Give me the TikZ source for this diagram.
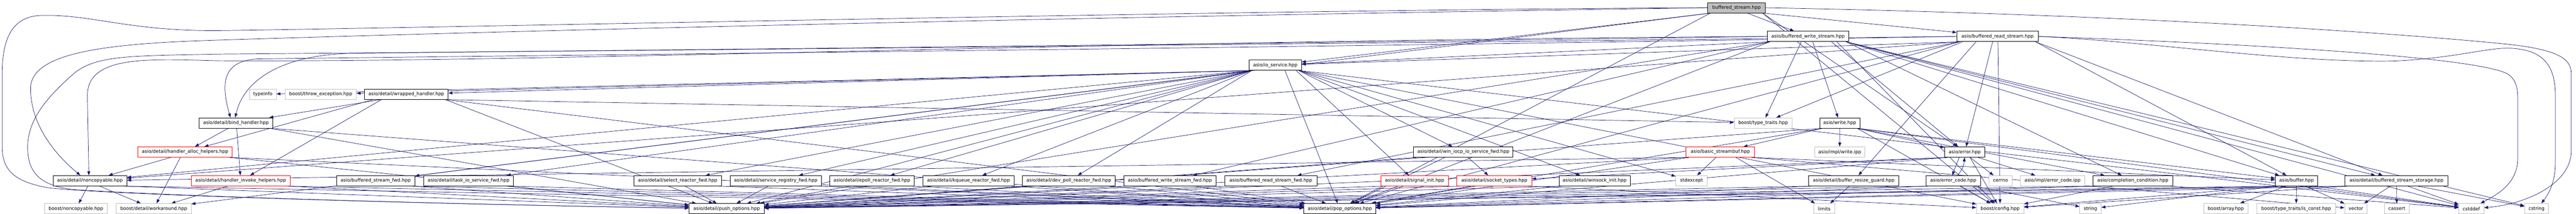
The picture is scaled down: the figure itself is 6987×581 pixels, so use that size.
\documentclass[tikz,border=0pt]{standalone}
\usepackage{fontspec}
\setmainfont{DejaVu Sans}
\usetikzlibrary{arrows.meta,backgrounds,calc}
\definecolor{edgecol}{HTML}{191970}
\definecolor{extcol}{HTML}{BFBFBF}
\newcommand\dep[2]{\draw[edg] let \p1=(#1.south west),\p2=(#1.south east),\p3=(#2.center),
  \n1={max(\x1+8pt,min(\x2-8pt,0.5*\x1+0.5*\x2+0.15*(\x3-0.5*\x1-0.5*\x2)))} in (\n1,\y1) -- (#2);}
\begin{document}
\begin{tikzpicture}[x=1pt,y=-1pt,
  nbox/.style={draw=black,line width=1.2pt,fill=white,minimum height=28pt,inner sep=0pt,font=\fontsize{12.6}{15}\selectfont},
  gbox/.style={nbox,draw=extcol},
  rbox/.style={nbox,draw=red},
  rootbox/.style={nbox,fill=extcol},
  edg/.style={draw=edgecol,line width=1pt,-{Triangle[length=11pt,width=8pt]}}]
\begin{pgfonlayer}{background}\fill[white] (0,0) rectangle (6987,581);\end{pgfonlayer}
\useasboundingbox (0,0) rectangle (6987,581);
% row A
\node[rootbox,minimum width=156pt] (root) at (4710,21) {buffered\_stream.hpp};
% row B
\node[nbox,minimum width=222pt] (bws) at (4904,99) {asio/buffered\_write\_stream.hpp};
\node[nbox,minimum width=221pt] (brs) at (5418,99) {asio/buffered\_read\_stream.hpp};
% row C
\node[nbox,minimum width=142pt] (ios) at (3459,177) {asio/io\_service.hpp};
% row D
\node[gbox,minimum width=72pt] (typeinfo) at (713,256) {typeinfo};
\node[gbox,minimum width=193pt] (throwex) at (870,256) {boost/throw\_exception.hpp};
\node[nbox,minimum width=227pt] (wrapped) at (1102,256) {asio/detail/wrapped\_handler.hpp};
% row E
\node[nbox,minimum width=200pt] (bind) at (640,334) {asio/detail/bind\_handler.hpp};
\node[gbox,minimum width=157pt] (typetraits) at (4782,334) {boost/type\_traits.hpp};
\node[nbox,minimum width=109pt] (write) at (4990,334) {asio/write.hpp};
% row F
\node[rbox,minimum width=256pt] (alloc) at (502,413) {asio/detail/handler\_alloc\_helpers.hpp};
\node[nbox,minimum width=270pt] (iocpfwd) at (3969,413) {asio/detail/win\_iocp\_io\_service\_fwd.hpp};
\node[rbox,minimum width=185pt] (streambuf) at (4666,413) {asio/basic\_streambuf.hpp};
\node[gbox,minimum width=136pt] (writeipp) at (4990,413) {asio/impl/write.ipp};
\node[nbox,minimum width=109pt] (error) at (5329,413) {asio/error.hpp};
% row G
\node[nbox,minimum width=200pt] (noncop) at (244,491) {asio/detail/noncopyable.hpp};
\node[rbox,minimum width=269pt] (invoke) at (653,491) {asio/detail/handler\_invoke\_helpers.hpp};
\node[nbox,minimum width=213pt] (bsfwd) at (1019,491) {asio/buffered\_stream\_fwd.hpp};
\node[nbox,minimum width=244pt] (taskfwd) at (1271,491) {asio/detail/task\_io\_service\_fwd.hpp};
\node[nbox,minimum width=237pt] (selectfwd) at (1838,491) {asio/detail/select\_reactor\_fwd.hpp};
\node[nbox,minimum width=247pt] (regfwd) at (2104,491) {asio/detail/service\_registry\_fwd.hpp};
\node[nbox,minimum width=230pt] (epollfwd) at (2365,491) {asio/detail/epoll\_reactor\_fwd.hpp};
\node[nbox,minimum width=246pt] (kqueuefwd) at (2627,491) {asio/detail/kqueue\_reactor\_fwd.hpp};
\node[nbox,minimum width=252pt] (devpollfwd) at (2899,491) {asio/detail/dev\_poll\_reactor\_fwd.hpp};
\node[nbox,minimum width=250pt] (bwsfwd) at (3173,491) {asio/buffered\_write\_stream\_fwd.hpp};
\node[nbox,minimum width=250pt] (brsfwd) at (3447,491) {asio/buffered\_read\_stream\_fwd.hpp};
\node[rbox,minimum width=182pt] (siginit) at (3837,491) {asio/detail/signal\_init.hpp};
\node[rbox,minimum width=203pt] (socktypes) at (4053,491) {asio/detail/socket\_types.hpp};
\node[nbox,minimum width=193pt] (winsock) at (4325,491) {asio/detail/winsock\_init.hpp};
\node[gbox,minimum width=85pt] (stdexcept) at (4588,491) {stdexcept};
\node[nbox,minimum width=244pt] (resize) at (5028,491) {asio/detail/buffer\_resize\_guard.hpp};
\node[nbox,minimum width=148pt] (errcode) at (5298,491) {asio/error\_code.hpp};
\node[gbox,minimum width=63pt] (cerrno) at (5426,491) {cerrno};
\node[gbox,minimum width=175pt] (errcodeipp) at (5567,491) {asio/impl/error\_code.ipp};
\node[nbox,minimum width=216pt] (complcond) at (5785,491) {asio/completion\_condition.hpp};
\node[nbox,minimum width=115pt] (buffer) at (6229,491) {asio/buffer.hpp};
\node[nbox,minimum width=280pt] (storage) at (6500,491) {asio/detail/buffered\_stream\_storage.hpp};
% row H
\node[gbox,minimum width=171pt] (bnoncop) at (206,567) {boost/noncopyable.hpp};
\node[gbox,minimum width=203pt] (workaround) at (417,567) {boost/detail/workaround.hpp};
\node[nbox,minimum width=204pt] (push) at (1971,567) {asio/detail/push\_options.hpp};
\node[nbox,minimum width=195pt] (pop) at (3634,567) {asio/detail/pop\_options.hpp};
\node[gbox,minimum width=56pt] (limits) at (4948,567) {limits};
\node[gbox,minimum width=128pt] (config) at (5425,567) {boost/config.hpp};
\node[gbox,minimum width=58pt] (string) at (5670,567) {string};
\node[gbox,minimum width=120pt] (array) at (6037,567) {boost/array.hpp};
\node[gbox,minimum width=213pt] (isconst) at (6228,567) {boost/type\_traits/is\_const.hpp};
\node[gbox,minimum width=61pt] (vector) at (6390,567) {vector};
\node[gbox,minimum width=68pt] (cassert) at (6501,567) {cassert};
\node[gbox,minimum width=68pt] (cstddef) at (6703,567) {cstddef};
\node[gbox,minimum width=65pt] (cstring) at (6880,567) {cstring};

\begin{pgfonlayer}{background}
% routed curves
\draw[edg] (root.west) .. controls (3500,25) and (1200,75) .. (600,83) .. controls (350,86) and (250,38) .. (110,42) .. controls (30,45) and (6,110) .. (6,200) -- (6,400) .. controls (6,470) and (50,495) .. (130,510) .. controls (300,530) and (1200,555) .. (push);
\draw[edg] (root.west) .. controls (3000,45) and (1500,80) .. (590,109) .. controls (300,118) and (83,140) .. (83,240) .. controls (83,340) and (150,420) .. ($(noncop.north)+(-26,0)$);
\draw[edg] (bws.west) .. controls (3000,110) and (1500,170) .. (590,165) .. controls (400,160) and (237,150) .. (237,260) -- ($(noncop.north)+(-3,0)$);
\draw[edg] (brs.west) .. controls (3500,120) and (1500,140) .. (590,147) .. controls (350,152) and (260,150) .. (200,200) .. controls (120,270) and (75,330) .. (75,400) .. controls (75,470) and (110,505) .. (200,515) .. controls (600,540) and (1500,560) .. (push);
\draw[edg] (root.east) .. controls (5800,40) and (6500,90) .. (6800,120) .. controls (6940,135) and (6974,160) .. (6974,200) -- (6974,410) .. controls (6974,500) and (6850,555) .. (cstddef);
\draw[edg] (brs.east) .. controls (6000,115) and (6700,150) .. (6800,200) .. controls (6825,215) and (6829,240) .. (6829,270) -- (6829,430) .. controls (6829,500) and (6770,530) .. ($(cstddef.north)+(25,0)$);
\draw[edg] (brs.east) .. controls (5800,110) and (6200,170) .. (6485,166) .. controls (6650,160) and (6750,128) .. (6809,131) .. controls (6900,135) and (6931,180) .. (6931,260) -- (6931,440) .. controls (6931,500) and (6910,530) .. ($(cstring.north)+(13,0)$);
\draw[edg] (bws.west) .. controls (3000,125) and (1300,140) .. (950,145) .. controls (760,150) and (660,220) .. ($(bind.north)+(-2,0)$);
\draw[edg] (brs.west) .. controls (3500,130) and (1500,150) .. (700,160) .. controls (600,165) and (600,230) .. ($(bind.north)+(-15,0)$);
\draw[edg] ($(error.south)+(-15,0)$) -- ($(errcode.north)+(-3,0)$);
\draw[edg] ($(errcode.north)+(12,0)$) .. controls (5325,455) .. (error.south);
% root
\dep{root}{pop}\dep{root}{config}\dep{root}{brs}\dep{root}{bws}\dep{root}{bsfwd}\dep{root}{error}\dep{root}{ios}
% buffered_write_stream
\dep{bws}{push}\dep{bws}{pop}\dep{bws}{cstddef}\dep{bws}{cstring}\dep{bws}{config}\dep{bws}{typetraits}\dep{bws}{bwsfwd}
\dep{bws}{buffer}\dep{bws}{complcond}\dep{bws}{error}\dep{bws}{ios}\dep{bws}{write}\dep{bws}{storage}
% buffered_read_stream
\dep{brs}{pop}\dep{brs}{config}\dep{brs}{typetraits}\dep{brs}{brsfwd}\dep{brs}{buffer}\dep{brs}{error}\dep{brs}{ios}
\dep{brs}{resize}\dep{brs}{storage}\dep{brs}{noncop}
% io_service
\dep{ios}{push}\dep{ios}{pop}\dep{ios}{cstddef}\dep{ios}{stdexcept}\dep{ios}{typeinfo}\dep{ios}{config}\dep{ios}{throwex}
\dep{ios}{workaround}\dep{ios}{devpollfwd}\dep{ios}{epollfwd}\dep{ios}{kqueuefwd}\dep{ios}{noncop}\dep{ios}{selectfwd}
\dep{ios}{regfwd}\dep{ios}{siginit}\dep{ios}{taskfwd}\dep{ios}{iocpfwd}\dep{ios}{winsock}\dep{ios}{wrapped}
% wrapped_handler, bind_handler, helpers
\dep{wrapped}{push}\dep{wrapped}{pop}\dep{wrapped}{typetraits}\dep{wrapped}{bind}\dep{wrapped}{alloc}\dep{wrapped}{invoke}
\dep{bind}{push}\dep{bind}{pop}\dep{bind}{alloc}\dep{bind}{invoke}
\dep{alloc}{push}\dep{alloc}{pop}\dep{alloc}{workaround}\dep{alloc}{noncop}
\dep{invoke}{push}\dep{invoke}{pop}\dep{invoke}{workaround}
\dep{noncop}{push}\dep{noncop}{pop}\dep{noncop}{bnoncop}\dep{noncop}{workaround}
% forward headers
\dep{bsfwd}{push}\dep{bsfwd}{pop}\dep{taskfwd}{push}\dep{taskfwd}{pop}\dep{selectfwd}{push}\dep{selectfwd}{pop}
\dep{regfwd}{push}\dep{regfwd}{pop}\dep{epollfwd}{push}\dep{epollfwd}{pop}\dep{kqueuefwd}{push}\dep{kqueuefwd}{pop}
\dep{devpollfwd}{push}\dep{devpollfwd}{pop}\dep{bwsfwd}{push}\dep{bwsfwd}{pop}\dep{brsfwd}{push}\dep{brsfwd}{pop}
\dep{iocpfwd}{push}\dep{iocpfwd}{pop}\dep{iocpfwd}{socktypes}
\dep{siginit}{push}\dep{siginit}{pop}
\dep{socktypes}{push}\dep{socktypes}{pop}\dep{socktypes}{config}
\dep{winsock}{push}\dep{winsock}{pop}
% streambuf, write, error
\dep{streambuf}{push}\dep{streambuf}{pop}\dep{streambuf}{limits}\dep{streambuf}{stdexcept}\dep{streambuf}{vector}
\dep{streambuf}{buffer}\dep{streambuf}{noncop}
\dep{write}{push}\dep{write}{pop}\dep{write}{cstddef}\dep{write}{config}\dep{write}{buffer}\dep{write}{complcond}
\dep{write}{streambuf}\dep{write}{error}\dep{write}{writeipp}
\dep{error}{push}\dep{error}{pop}\dep{error}{config}\dep{error}{cerrno}\dep{error}{errcodeipp}\dep{error}{socktypes}
\dep{errcode}{push}\dep{errcode}{pop}\dep{errcode}{config}\dep{errcode}{string}
\dep{resize}{push}\dep{resize}{pop}\dep{resize}{limits}
\dep{complcond}{push}\dep{complcond}{pop}\dep{complcond}{cstddef}\dep{complcond}{config}
\dep{buffer}{push}\dep{buffer}{pop}\dep{buffer}{cstddef}\dep{buffer}{config}\dep{buffer}{array}\dep{buffer}{isconst}
\dep{buffer}{string}\dep{buffer}{vector}
\dep{storage}{push}\dep{storage}{pop}\dep{storage}{config}\dep{storage}{cassert}\dep{storage}{cstddef}
\dep{storage}{cstring}\dep{storage}{vector}
\end{pgfonlayer}
\end{tikzpicture}
\end{document}
